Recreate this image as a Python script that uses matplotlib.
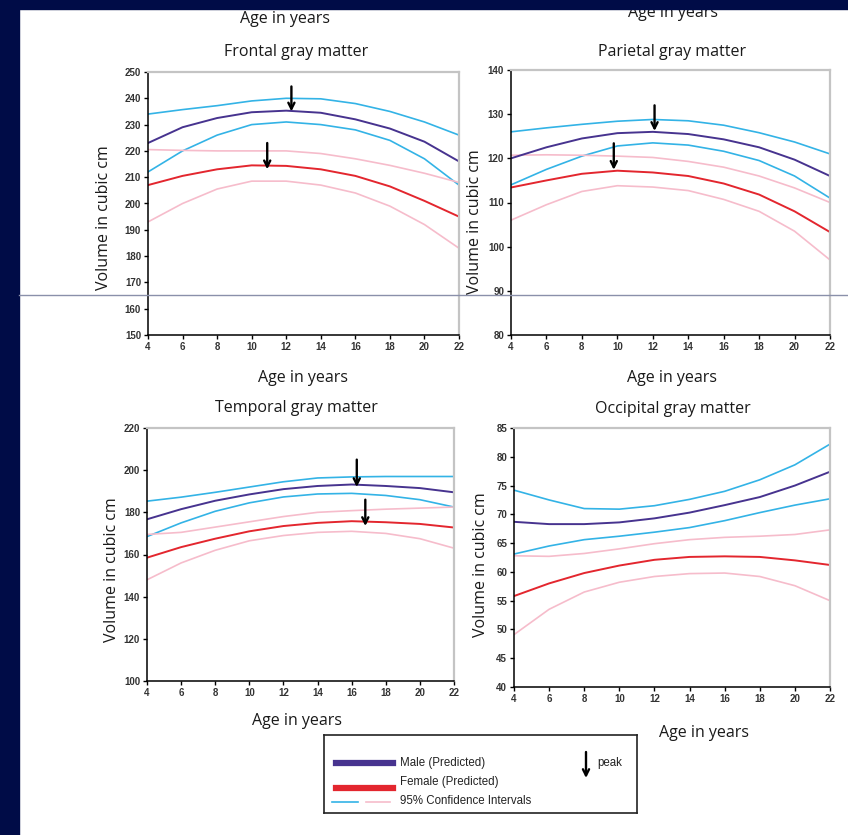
import numpy as np
import matplotlib
matplotlib.use("Agg")
import matplotlib.pyplot as plt
from matplotlib.patches import Rectangle
from matplotlib.lines import Line2D

# ages (years)
ages = [4, 6, 8, 10, 12, 14, 16, 18, 20, 22]

# Frontal gray matter
frontal_male = [223, 229, 232.5, 234.7, 235.3, 234.5, 232, 228.5, 223.5, 216]
frontal_male_hi = [234, 235.7, 237.2, 239, 240, 239.8, 238, 235, 231, 226]
frontal_male_lo = [212, 220, 226, 230, 231, 230, 228, 224, 217, 207]
frontal_female = [207, 210.5, 213, 214.5, 214.3, 213, 210.5, 206.5, 201, 195]
frontal_female_hi = [220.5, 220.2, 220, 220, 220, 219, 217, 214.5, 211.5, 208]
frontal_female_lo = [193, 200, 205.5, 208.5, 208.5, 207, 204, 199, 192, 183]

# Parietal gray matter
parietal_male = [120, 122.5, 124.5, 125.7, 126, 125.5, 124.3, 122.5, 119.7, 116]
parietal_male_hi = [126, 126.9, 127.7, 128.4, 128.8, 128.5, 127.5, 125.8, 123.7, 121]
parietal_male_lo = [114, 117.5, 120.5, 122.8, 123.5, 123, 121.6, 119.5, 116, 111]
parietal_female = [113.4, 115, 116.5, 117.2, 116.8, 116, 114.3, 111.8, 108, 103.3]
parietal_female_hi = [120.7, 120.8, 120.7, 120.5, 120.2, 119.3, 118, 116, 113.3, 110]
parietal_female_lo = [106, 109.5, 112.5, 113.8, 113.5, 112.7, 110.7, 108, 103.5, 97]

# Temporal gray matter
temporal_male = [176.7, 181.5, 185.5, 188.5, 191, 192.5, 193.2, 192.5, 191.5, 189.5]
temporal_male_hi = [185.3, 187.2, 189.5, 192, 194.5, 196.3, 196.8, 197, 197, 197]
temporal_male_lo = [168.5, 175, 180.5, 184.5, 187.3, 188.7, 189, 188, 186, 182.5]
temporal_female = [158.5, 163.5, 167.5, 171, 173.5, 175, 175.8, 175.3, 174.5, 172.8]
temporal_female_hi = [169.5, 170.5, 173, 175.5, 178, 180, 180.8, 181.5, 182, 182.5]
temporal_female_lo = [148, 156, 162, 166.5, 169, 170.5, 171, 170, 167.5, 163]

# Occipital gray matter
occipital_male = [68.7, 68.3, 68.3, 68.6, 69.3, 70.3, 71.6, 73, 75, 77.4]
occipital_male_hi = [74.2, 72.5, 71, 70.9, 71.5, 72.6, 74, 76, 78.6, 82.2]
occipital_male_lo = [63.1, 64.5, 65.6, 66.2, 66.9, 67.7, 68.9, 70.3, 71.6, 72.7]
occipital_female = [55.8, 58, 59.8, 61.1, 62.1, 62.6, 62.7, 62.6, 62, 61.2]
occipital_female_hi = [62.8, 62.7, 63.2, 64, 64.9, 65.6, 66, 66.2, 66.5, 67.3]
occipital_female_lo = [49.1, 53.5, 56.5, 58.2, 59.2, 59.7, 59.8, 59.2, 57.6, 55]

# peak arrows: (age, arrow top, arrow tip)
frontal_peaks = [(12.3, 244.5, 235.0), (10.9, 223.0, 213.0)]
parietal_peaks = [(12.1, 132.0, 126.2), (9.8, 123.4, 117.4)]
temporal_peaks = [(16.3, 205.0, 192.0), (16.8, 186.0, 173.5)]
occipital_peaks = []

panels = [
    ("Frontal gray matter", (150, 250, 10),
     [frontal_male, frontal_male_hi, frontal_male_lo,
      frontal_female, frontal_female_hi, frontal_female_lo], frontal_peaks),
    ("Parietal gray matter", (80, 140, 10),
     [parietal_male, parietal_male_hi, parietal_male_lo,
      parietal_female, parietal_female_hi, parietal_female_lo], parietal_peaks),
    ("Temporal gray matter", (100, 220, 20),
     [temporal_male, temporal_male_hi, temporal_male_lo,
      temporal_female, temporal_female_hi, temporal_female_lo], temporal_peaks),
    ("Occipital gray matter", (40, 85, 5),
     [occipital_male, occipital_male_hi, occipital_male_lo,
      occipital_female, occipital_female_hi, occipital_female_lo], occipital_peaks),
]

MALE = '#47338f'
FEMALE = '#e3262e'
MALE_CI = '#33b3e6'
FEMALE_CI = '#f6bccb'
NAVY = '#000c47'

W, H = 848, 835
LABEL_FONT = ['Open Sans', 'DejaVu Sans']
TICK_FONT = ['Liberation Sans Narrow', 'Liberation Sans', 'DejaVu Sans']

fig = plt.figure(figsize=(W / 100, H / 100), dpi=100, facecolor='white')


def px(x, y):
    return x / W, 1 - y / H


def box(l, t, r, b):
    return [l / W, 1 - b / H, (r - l) / W, (b - t) / H]


# axes boxes in pixels: left, top, right, bottom
boxes = [(148, 72, 459, 335), (511, 70, 830, 335),
         (147, 428, 454, 681), (514, 428, 830, 687)]
title_pos = [(296, 52), (672, 52), (296, 408), (673, 409)]
xlabel_pos = [(303, 378), (672, 378), (297, 721), (704, 733)]
ylabel_pos = [(104, 218), (475, 222), (112, 570), (481, 565)]

for (title, (ylo, yhi, ystep), series, peaks), bx, tp, xp, yp in zip(
        panels, boxes, title_pos, xlabel_pos, ylabel_pos):
    ax = fig.add_axes(box(*bx))
    m, mhi, mlo, f, fhi, flo = series
    ax.plot(ages, mhi, color=MALE_CI, lw=1.2)
    ax.plot(ages, mlo, color=MALE_CI, lw=1.2)
    ax.plot(ages, fhi, color=FEMALE_CI, lw=1.2)
    ax.plot(ages, flo, color=FEMALE_CI, lw=1.2)
    ax.plot(ages, m, color=MALE, lw=1.4)
    ax.plot(ages, f, color=FEMALE, lw=1.4)
    for xa, ytop, ytip in peaks:
        ax.annotate('', xy=(xa, ytip), xytext=(xa, ytop),
                    arrowprops=dict(arrowstyle='->', color='black', lw=1.7,
                                    shrinkA=0, shrinkB=0,
                                    mutation_scale=11))
    ax.set_xlim(4, 22)
    ax.set_ylim(ylo, yhi)
    ax.set_xticks(range(4, 23, 2))
    ax.set_yticks(np.arange(ylo, yhi + 0.1, ystep))
    ax.tick_params(direction='out', length=3, width=1, colors='black',
                   labelsize=7, pad=2)
    for lab in ax.get_xticklabels() + ax.get_yticklabels():
        lab.set_family(TICK_FONT)
        lab.set_weight('bold')
        lab.set_color('#333333')
    for s in ('left', 'bottom'):
        ax.spines[s].set_color('black')
        ax.spines[s].set_linewidth(1.1)
    for s in ('top', 'right'):
        ax.spines[s].set_color('#c4c4c4')
        ax.spines[s].set_linewidth(1.6)
    fig.text(*px(*tp), title, ha='center', va='center', fontsize=11.5,
             family=LABEL_FONT, color='#1a1a1a')
    fig.text(*px(*xp), 'Age in years', ha='center', va='center',
             fontsize=11.5, family=LABEL_FONT, color='#1a1a1a')
    fig.text(*px(*yp), 'Volume in cubic cm', ha='center', va='center',
             rotation=90, fontsize=11.5, family=LABEL_FONT, color='#1a1a1a')

# cut-off labels from the slide above
fig.text(*px(285, 19), 'Age in years', ha='center', va='center',
         fontsize=11.5, family=LABEL_FONT, color='#1a1a1a')
fig.text(*px(673, 13), 'Age in years', ha='center', va='center',
         fontsize=11.5, family=LABEL_FONT, color='#1a1a1a')

# legend box
lax = fig.add_axes(box(324, 735, 637, 813))
lax.set_xlim(324, 637)
lax.set_ylim(813, 735)
lax.set_xticks([])
lax.set_yticks([])
for s in lax.spines.values():
    s.set_color('#222222')
    s.set_linewidth(1.2)
lax.add_line(Line2D([336, 393], [763, 763], color=MALE, lw=4.5))
lax.add_line(Line2D([336, 393], [788, 788], color=FEMALE, lw=4.5))
lax.add_line(Line2D([332, 358], [802, 802], color=MALE_CI, lw=1.2))
lax.add_line(Line2D([366, 390], [802, 802], color=FEMALE_CI, lw=1.2))
leg_font = ['Liberation Sans', 'DejaVu Sans']
lax.text(400, 763, 'Male (Predicted)', va='center', fontsize=8.3,
         family=leg_font, color='#222222')
lax.text(400, 782, 'Female (Predicted)', va='center', fontsize=8.3,
         family=leg_font, color='#222222')
lax.text(400, 801, '95% Confidence Intervals', va='center', fontsize=8.3,
         family=leg_font, color='#222222')
lax.annotate('', xy=(586, 778), xytext=(586, 752),
             arrowprops=dict(arrowstyle='->', color='black', lw=1.7,
                             shrinkA=0, shrinkB=0, mutation_scale=11))
lax.text(597, 763, 'peak', va='center', fontsize=8.3, family=leg_font,
         color='#222222')

# slide frame and stray rule
fig.add_artist(Rectangle((0, 0), 19 / W, 1, transform=fig.transFigure,
                         color=NAVY, zorder=10))
fig.add_artist(Rectangle((0, 1 - 9 / H), 1, 9 / H, transform=fig.transFigure,
                         color=NAVY, zorder=10))
fig.add_artist(Line2D([19 / W, 1], [1 - 295 / H, 1 - 295 / H],
                      transform=fig.transFigure, color='#8a90aa', lw=1,
                      zorder=11))

fig.savefig('out.png', dpi=100, facecolor='white')
